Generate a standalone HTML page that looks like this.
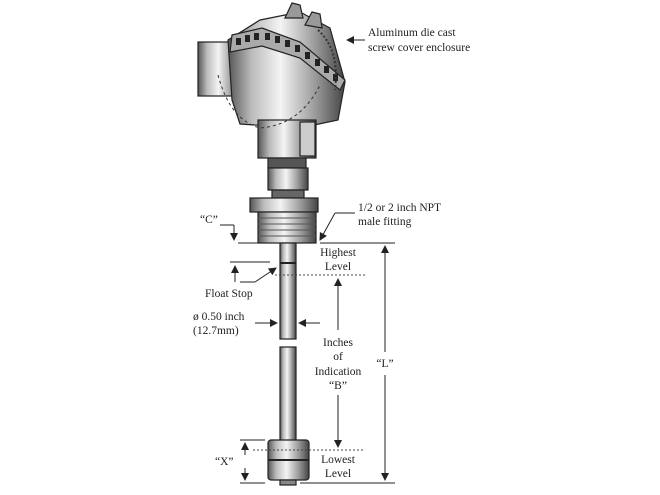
<!DOCTYPE html>
<html><head><style>
body{margin:0;background:#fff}
svg{display:block}
text{font-family:"Liberation Serif",serif;font-size:11.5px;fill:#222}
</style></head><body>
<svg width="660" height="495" viewBox="0 0 660 495" xmlns="http://www.w3.org/2000/svg">
<defs>
<linearGradient id="m" x1="0" x2="1">
<stop offset="0" stop-color="#555"/><stop offset=".2" stop-color="#bbb"/><stop offset=".45" stop-color="#f4f4f4"/><stop offset=".75" stop-color="#999"/><stop offset="1" stop-color="#444"/>
</linearGradient>
<marker id="a" markerWidth="8" markerHeight="8" refX="7" refY="4" orient="auto"><path d="M0,0 L8,4 L0,8 Z" fill="#222"/></marker>
</defs>
<g stroke="#222" stroke-width="1.2">
<rect x="198" y="42" width="45" height="54" fill="url(#m)"/>
<path d="M228,40 L260,20 L300,12 L330,28 L345,82 L338,120 L300,128 L240,124 L232,100 Z" fill="url(#m)"/>
<path d="M285,18 L292,3 L300,5 L303,18 Z M305,25 L312,12 L320,14 L322,28Z" fill="#999"/>
<path d="M232,35 L262,28 L300,42 L345,80 L340,90 L300,58 L262,46 L230,52 Z" fill="#aaa"/>
<rect x="258" y="120" width="58" height="38" fill="url(#m)"/>
<rect x="300" y="122" width="15" height="34" fill="#ccc"/>
<rect x="268" y="158" width="38" height="10" fill="#555"/>
<rect x="268" y="168" width="40" height="22" fill="url(#m)"/>
<rect x="272" y="190" width="32" height="8" fill="#666"/>
<rect x="250" y="198" width="68" height="14" fill="url(#m)"/>
<rect x="258" y="212" width="58" height="31" fill="url(#m)"/>
<rect x="280" y="243" width="16" height="96" fill="url(#m)"/>
<rect x="280" y="347" width="16" height="94" fill="url(#m)"/>
<rect x="268" y="440" width="41" height="40" rx="3" fill="url(#m)"/>
<rect x="280" y="480" width="16" height="5" fill="#888"/>
</g>
<!-- band squares -->
<g fill="#222">
<rect x="236" y="38" width="5" height="7"/><rect x="245" y="35" width="5" height="7"/><rect x="254" y="33" width="5" height="7"/>
<rect x="265" y="33" width="5" height="7"/><rect x="275" y="36" width="5" height="7"/><rect x="285" y="40" width="5" height="7"/>
<rect x="295" y="45" width="5" height="7"/><rect x="305" y="52" width="5" height="7"/><rect x="315" y="59" width="5" height="7"/>
<rect x="324" y="66" width="5" height="7"/><rect x="333" y="74" width="5" height="7"/>
</g>
<g stroke="#222" stroke-width="2" fill="none">
<line x1="280" y1="263" x2="296" y2="263"/>
<line x1="268" y1="460" x2="309" y2="460"/>
</g>
<g stroke="#555" stroke-width="1">
<line x1="258" y1="218" x2="316" y2="218"/><line x1="258" y1="224" x2="316" y2="224"/><line x1="258" y1="230" x2="316" y2="230"/><line x1="258" y1="236" x2="316" y2="236"/>
</g>
<path d="M218,75 Q230,120 260,128 Q300,125 320,85" stroke="#333" stroke-dasharray="3,3" fill="none"/>
<path d="M318,30 Q340,50 335,90" stroke="#333" stroke-dasharray="2,2" stroke-width="2" fill="none"/>
<g stroke="#444" stroke-dasharray="2,2">
<line x1="275" y1="275" x2="365" y2="275"/>
<line x1="253" y1="450" x2="365" y2="450"/>
</g>
<g stroke="#222" stroke-width="1" fill="none">
<line x1="320" y1="243" x2="395" y2="243"/>
<line x1="300" y1="483" x2="395" y2="483"/>
<line x1="385" y1="352" x2="385" y2="246" marker-end="url(#a)"/>
<line x1="385" y1="375" x2="385" y2="480" marker-end="url(#a)"/>
<line x1="338" y1="330" x2="338" y2="279" marker-end="url(#a)"/>
<line x1="338" y1="395" x2="338" y2="447" marker-end="url(#a)"/>
<line x1="238" y1="243" x2="270" y2="243"/>
<line x1="220" y1="225" x2="234" y2="225"/><line x1="234" y1="225" x2="234" y2="240" marker-end="url(#a)"/>
<line x1="230" y1="262" x2="270" y2="262"/>
<line x1="235" y1="282" x2="235" y2="266" marker-end="url(#a)"/>
<line x1="240" y1="282" x2="255" y2="282"/><line x1="255" y1="282" x2="276" y2="268" marker-end="url(#a)"/>
<line x1="255" y1="323" x2="277" y2="323" marker-end="url(#a)"/>
<line x1="320" y1="323" x2="299" y2="323" marker-end="url(#a)"/>
<line x1="240" y1="440" x2="265" y2="440"/><line x1="240" y1="483" x2="265" y2="483"/>
<line x1="245" y1="455" x2="245" y2="443" marker-end="url(#a)"/>
<line x1="245" y1="468" x2="245" y2="480" marker-end="url(#a)"/>
<line x1="365" y1="40" x2="347" y2="40" marker-end="url(#a)"/>
<line x1="355" y1="213" x2="335" y2="213"/><line x1="335" y1="213" x2="320" y2="240" marker-end="url(#a)"/>
</g>
<text x="368" y="36">Aluminum die cast</text>
<text x="368" y="51">screw cover enclosure</text>
<text x="358" y="211">1/2 or 2 inch NPT</text>
<text x="358" y="225">male fitting</text>
<text x="200" y="223">“C”</text>
<text x="338" y="256" text-anchor="middle">Highest</text>
<text x="338" y="270" text-anchor="middle">Level</text>
<text x="205" y="297">Float Stop</text>
<text x="193" y="320">ø 0.50 inch</text>
<text x="193" y="334">(12.7mm)</text>
<text x="338" y="346" text-anchor="middle">Inches</text>
<text x="338" y="360" text-anchor="middle">of</text>
<text x="338" y="375" text-anchor="middle">Indication</text>
<text x="338" y="389" text-anchor="middle">“B”</text>
<text x="385" y="367" text-anchor="middle">“L”</text>
<text x="215" y="465">“X”</text>
<text x="338" y="463" text-anchor="middle">Lowest</text>
<text x="338" y="477" text-anchor="middle">Level</text>
</svg>
</body></html>
